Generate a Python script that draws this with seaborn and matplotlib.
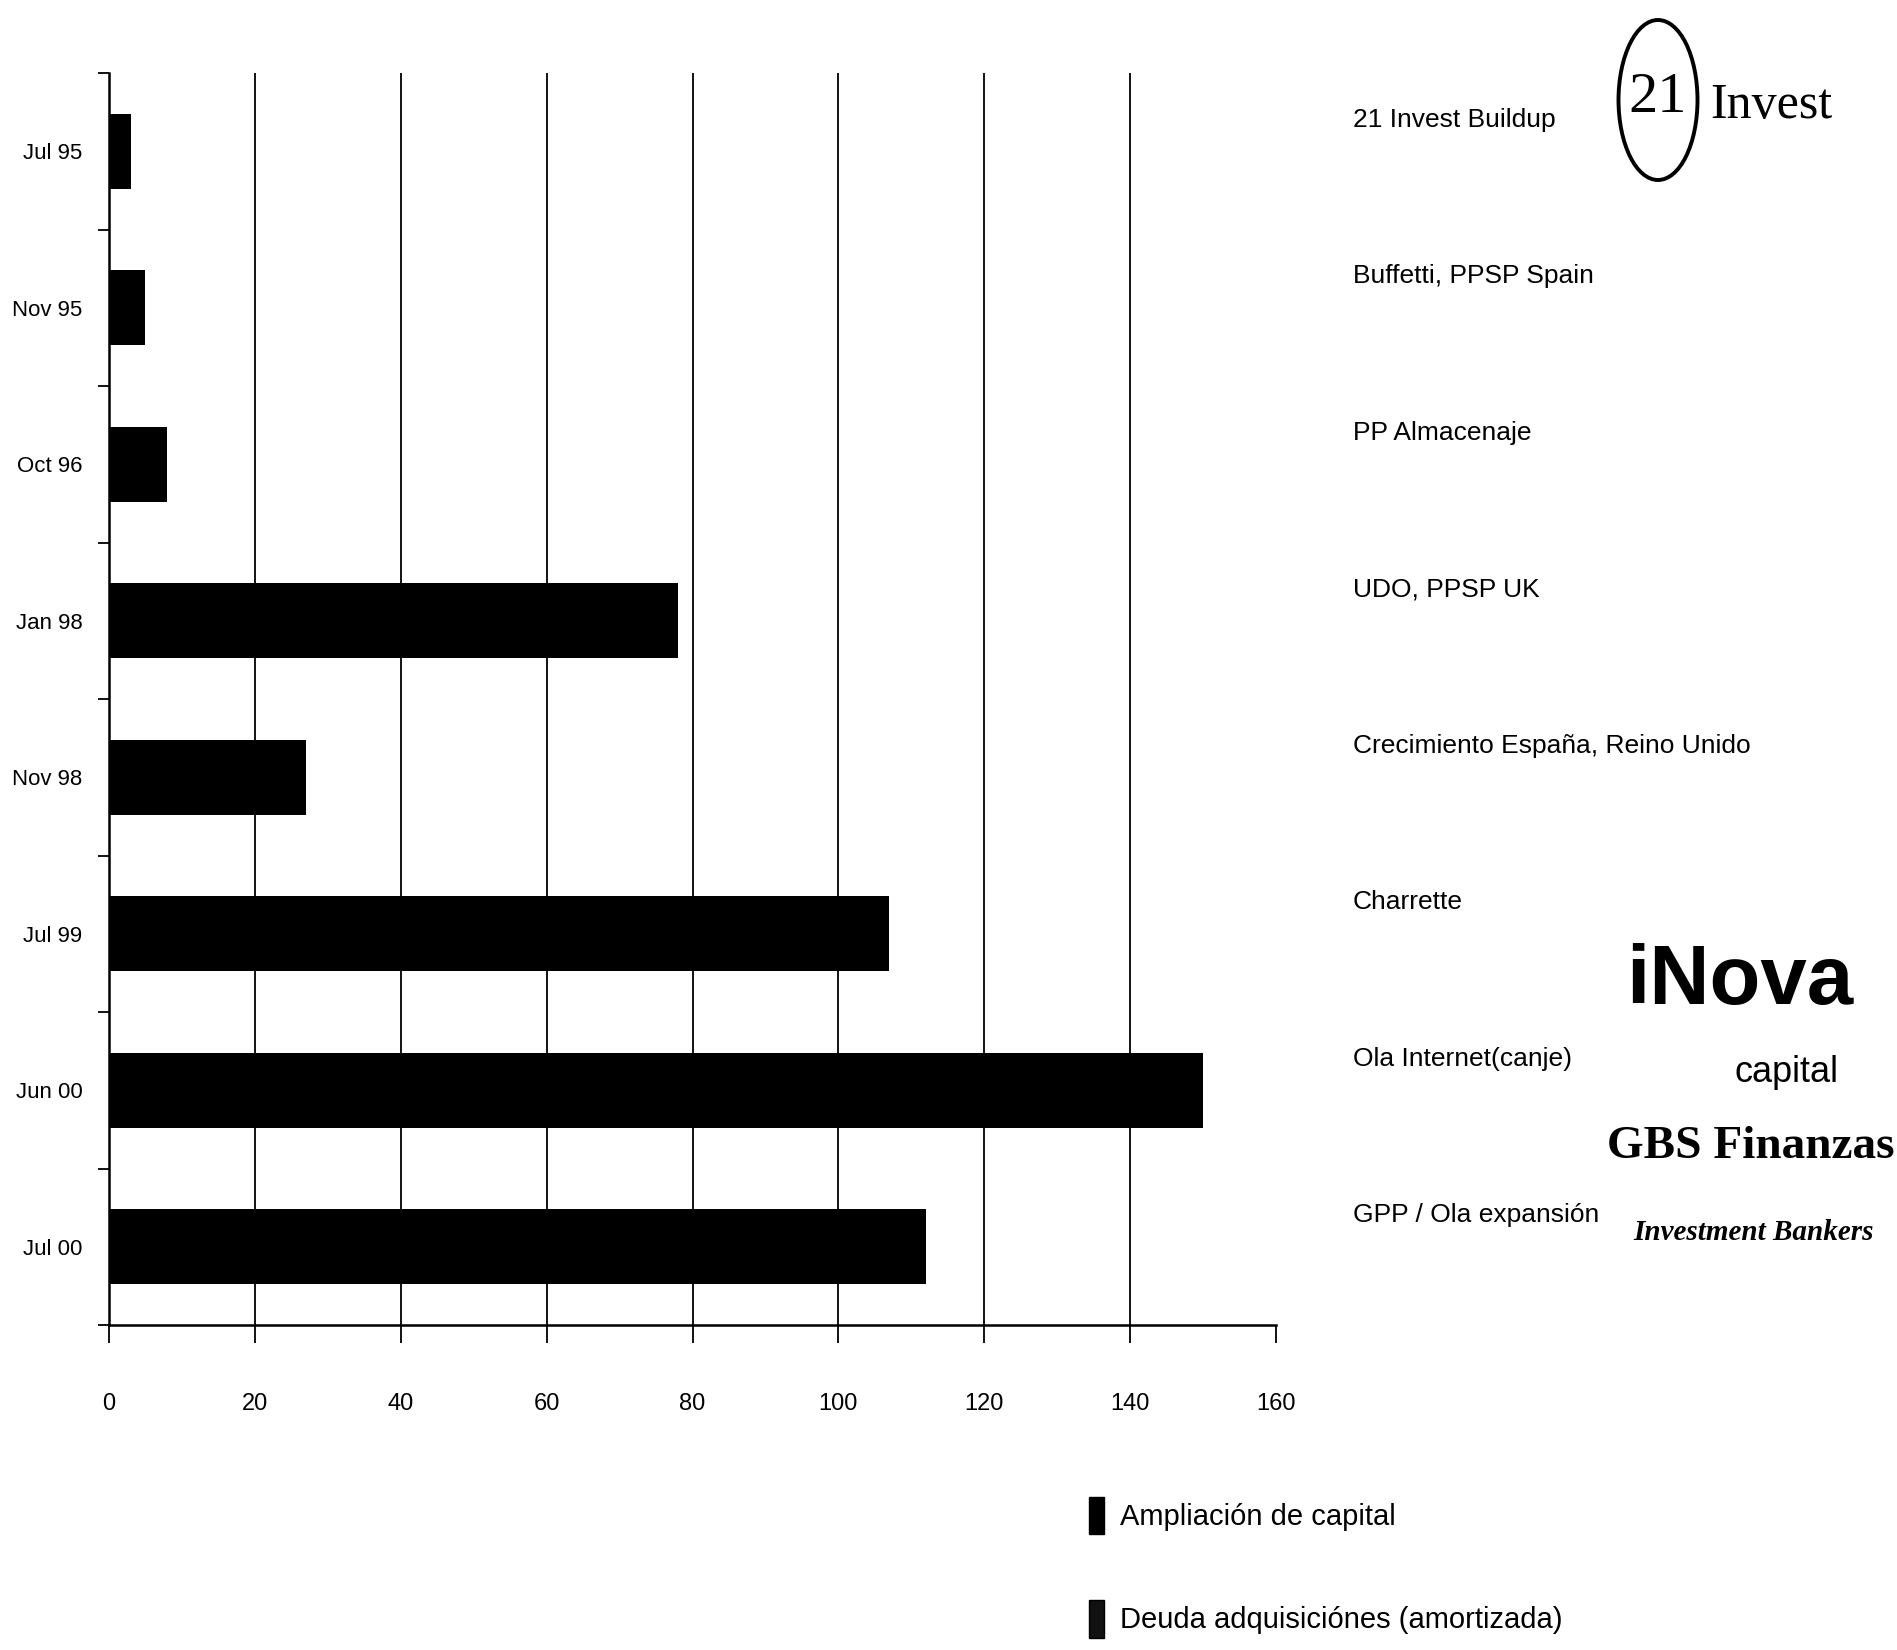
import matplotlib
matplotlib.use("Agg")
import matplotlib.pyplot as plt
import matplotlib.transforms as mtransforms
from matplotlib.patches import Ellipse, Patch
from matplotlib.ticker import FixedLocator
import seaborn as sns
import pandas as pd

# Capital raised per round (millions)
rounds = ["Jul 95", "Nov 95", "Oct 96", "Jan 98", "Nov 98", "Jul 99", "Jun 00", "Jul 00"]
ampliacion = [3, 5, 8, 78, 27, 107, 150, 112]
operaciones = [
    "21 Invest Buildup",
    "Buffetti, PPSP Spain",
    "PP Almacenaje",
    "UDO, PPSP UK",
    "Crecimiento España, Reino Unido",
    "Charrette",
    "Ola Internet(canje)",
    "GPP / Ola expansión",
]
series_labels = ["Ampliación de capital", "Deuda adquisiciónes (amortizada)"]
x_ticks = [0, 20, 40, 60, 80, 100, 120, 140, 160]

df = pd.DataFrame({"ronda": rounds, "importe": ampliacion})

sns.set_theme(style="white")
SANS = ["Liberation Sans", "DejaVu Sans"]
SERIF = ["Liberation Serif", "DejaVu Serif"]
plt.rcParams["font.family"] = SANS

W, H = 1897, 1650
fig = plt.figure(figsize=(W / 100, H / 100), dpi=100)
ax = fig.add_axes([109 / W, 1 - 1325 / H, (1276 - 109) / W, (1325 - 73) / H])

sns.barplot(data=df, y="ronda", x="importe", orient="h", color="black",
            width=0.48, edgecolor="black", linewidth=0, ax=ax, zorder=3)

ax.set_xlim(0, 160)
ax.set_ylim(len(rounds) - 0.5, -0.5)
ax.set_xlabel("")
ax.set_ylabel("")

# vertical grid lines at every 20, except the axis ends
for v in x_ticks[1:-1]:
    ax.axvline(v, color="black", lw=1.3, zorder=1)

for side in ("top", "right"):
    ax.spines[side].set_visible(False)
for side in ("left", "bottom"):
    ax.spines[side].set_color("black")
    ax.spines[side].set_linewidth(1.8)

ax.set_xticks(x_ticks)
ax.set_xticklabels([str(t) for t in x_ticks])
ax.tick_params(axis="x", direction="out", length=13, width=1.3, color="black",
               pad=36, labelsize=17, labelcolor="black", bottom=True)

ax.yaxis.set_minor_locator(FixedLocator([i - 0.5 for i in range(len(rounds) + 1)]))
ax.tick_params(axis="y", which="major", length=0, pad=19, labelsize=16,
               labelcolor="black")
ax.tick_params(axis="y", which="minor", direction="out", length=8, width=1.3,
               color="black", left=True)

# deal names beside each bar
trans = mtransforms.blended_transform_factory(fig.transFigure, ax.transData)
for i, name in enumerate(operaciones):
    ax.text(1353 / W, i - 0.2, name, transform=trans, ha="left", va="center",
            fontsize=19, color="black", clip_on=False)

# company marks
fig.patches.append(Ellipse((1658 / W, 1 - 100 / H), 79 / W, 160 / H,
                           transform=fig.transFigure, fill=False,
                           edgecolor="black", lw=2.8))
fig.text(1658 / W, 1 - 98 / H, "21", family=SERIF, fontsize=42,
         ha="center", va="center", color="black")
fig.text(1710 / W, 1 - 106 / H, "Invest", family=SERIF, fontsize=36,
         ha="left", va="center", color="black")

fig.text(1740 / W, 1 - 1004 / H, "iNova", family=SANS, fontsize=60,
         fontweight="bold", ha="center", va="baseline", color="black")
fig.text(1839 / W, 1 - 1082 / H, "capital", family=SANS, fontsize=26,
         ha="right", va="baseline", color="black")
fig.text(1751 / W, 1 - 1147 / H, "GBS Finanzas", family=SERIF, fontsize=34,
         fontweight="bold", ha="center", va="center", color="black")
fig.text(1754 / W, 1 - 1232 / H, "Investment Bankers", family=SERIF,
         fontsize=21, fontweight="bold", style="italic", ha="center",
         va="center", color="black")

handles = [Patch(facecolor="black", edgecolor="black"),
           Patch(facecolor="#111111", edgecolor="black")]
fig.legend(handles, series_labels, loc="upper left",
           bbox_to_anchor=(1089 / W, 1 - 1497 / H), frameon=False,
           fontsize=21, handlelength=0.5, handleheight=1.6,
           handletextpad=0.55, labelspacing=2.25, borderpad=0,
           borderaxespad=0, labelcolor="black")

fig.savefig("out.png", dpi=100, facecolor="white")
